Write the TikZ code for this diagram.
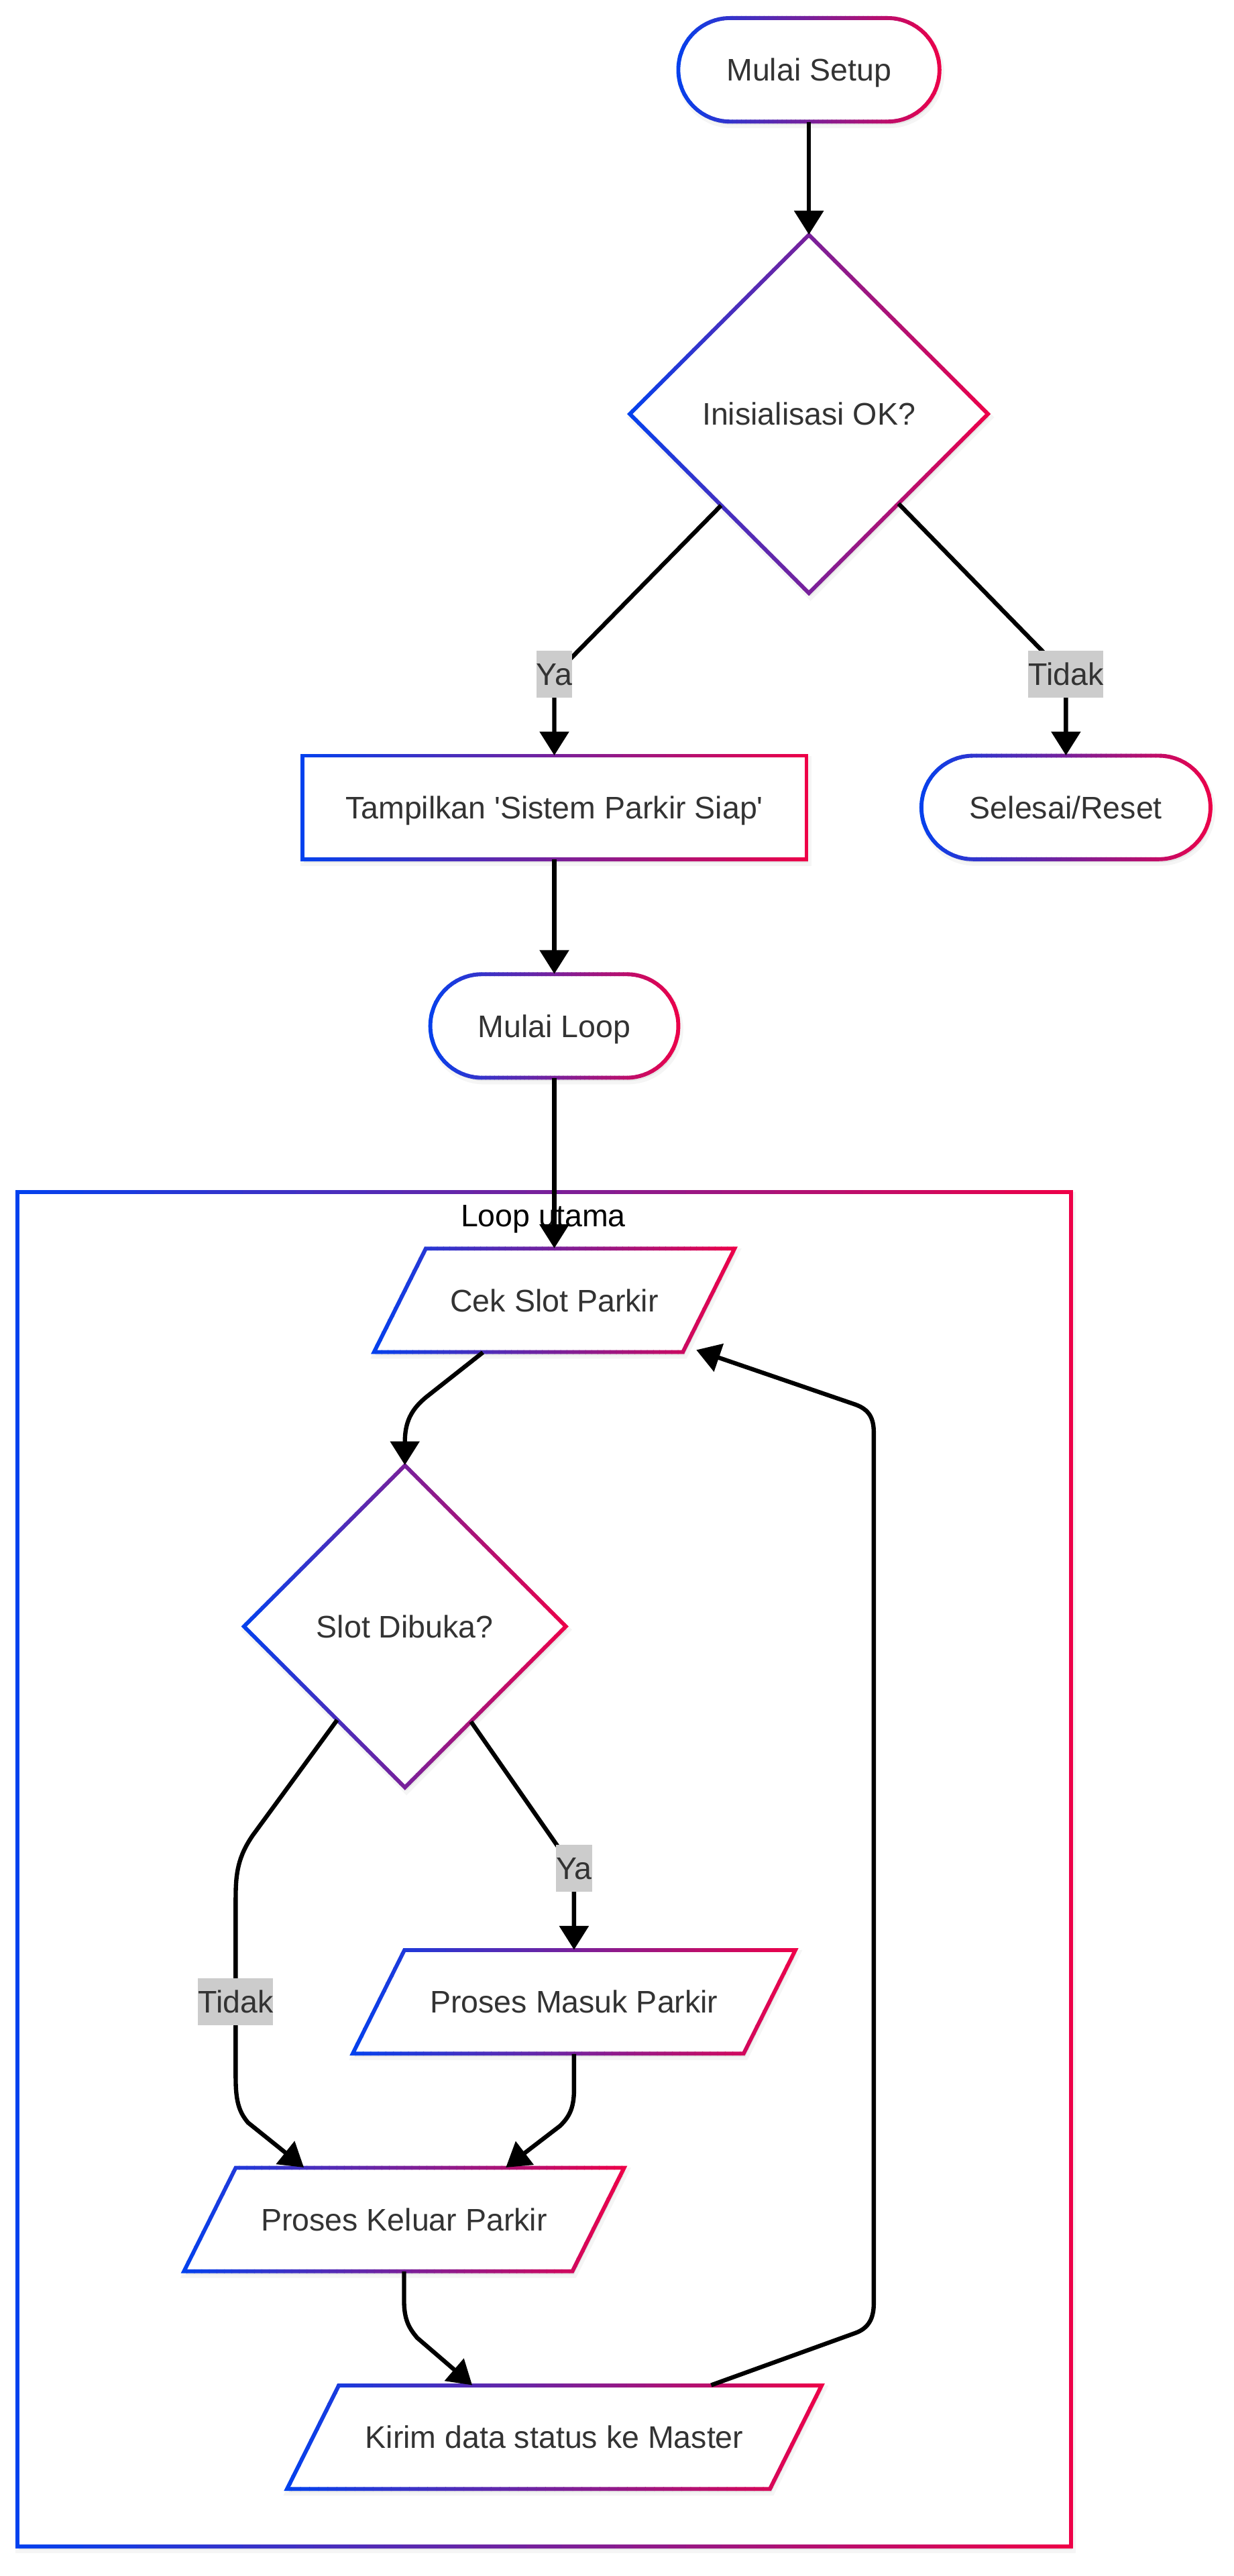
\documentclass[tikz,border=0pt]{standalone}
\usepackage{fontspec}
\setmainfont{Liberation Sans}
\usetikzlibrary{arrows.meta,calc,shapes.geometric}
\definecolor{gblue}{RGB}{0,66,240}
\definecolor{gred}{RGB}{238,0,72}
\definecolor{txtc}{HTML}{333333}
\definecolor{lblbg}{HTML}{CCCCCC}
\tikzset{
  gline/.style={line width=2.4pt, line join=miter},
  shadowst/.style={fill=black, fill opacity=0.06, draw=black, draw opacity=0.04, line width=4pt},
  ntext/.style={text=txtc, inner sep=0pt, text height=13.6pt, text depth=0pt, align=center},
  conn/.style={line width=2.6pt, draw=black, -{Triangle[length=14.5pt,width=17.5pt]}},
  elabel/.style={fill=lblbg, text=txtc, inner xsep=0pt, inner ysep=7.5pt, text height=13.6pt, text depth=0pt},
}
% gradient stroke: [opts]{xmin}{xmax}{path}
\newcommand\gstroke[4][]{%
  \pgfmathsetmacro\gstep{(#3-#2+6)/60}%
  \foreach \k in {0,...,59}{%
    \pgfmathsetmacro\xa{#2-3+\gstep*\k}%
    \pgfmathsetmacro\xb{#2-3+\gstep*(\k+1)+0.4}%
    \pgfmathtruncatemacro\pc{100-100*(\k+0.5)/60}%
    \begin{scope}
      \clip (\xa,-20) rectangle (\xb,1600);
      \draw[gline, draw=gblue!\pc!gred, #1] #4;
    \end{scope}
  }%
}
\newcommand\shapeall[4][]{%
  \path[shadowst, #1, shift={(1,2)}] #4;
  \fill[white, #1] #4;
  \gstroke[#1]{#2}{#3}{#4}%
}
\begin{document}
\begin{tikzpicture}[x=1pt, y=-1pt, font=\fontsize{19}{23}\selectfont]
\useasboundingbox (0,0) rectangle (751.3,1568);
\fill[white] (0,0) rectangle (751.3,1568);

% subgraph
\shapeall{10.5}{652}{(10.5,725.5) rectangle (652,1550)}
\node[text=black, inner sep=0pt, text height=13.6pt, text depth=0pt] (ttl) at (330.7,740) {Loop utama};

% shapes
\shapeall[rounded corners=31.5pt]{413}{572}{(413,11) rectangle (572,74)}
\shapeall{383.5}{601.5}{(492.5,143) -- (601.5,252) -- (492.5,361) -- (383.5,252) -- cycle}
\shapeall{184}{491}{(184,460) rectangle (491,523)}
\shapeall[rounded corners=31.5pt]{561}{737}{(561,460) rectangle (737,523)}
\shapeall[rounded corners=31.5pt]{262}{413}{(262,593) rectangle (413,656)}
\shapeall{227.75}{447.25}{(259.25,760) -- (447.25,760) -- (415.75,823) -- (227.75,823) -- cycle}
\shapeall{148.5}{344.5}{(246.5,892) -- (344.5,990) -- (246.5,1088) -- (148.5,990) -- cycle}
\shapeall{214.75}{484.25}{(246.25,1187) -- (484.25,1187) -- (452.75,1250) -- (214.75,1250) -- cycle}
\shapeall{112}{380}{(143.5,1319.5) -- (380,1319.5) -- (348.5,1382.5) -- (112,1382.5) -- cycle}
\shapeall{174.75}{500.25}{(206.25,1452) -- (500.25,1452) -- (468.75,1515) -- (174.75,1515) -- cycle}

% node texts
\node[ntext, minimum width=159pt, minimum height=63pt] (ms) at (492.5,42.5) {Mulai Setup};
\node[ntext, diamond, aspect=1, minimum width=218pt, minimum height=218pt] (init) at (492.5,252) {Inisialisasi OK?};
\node[ntext, minimum width=307pt, minimum height=63pt] (tamp) at (337.5,491.5) {Tampilkan \textquotesingle Sistem Parkir Siap\textquotesingle};
\node[ntext, minimum width=176pt, minimum height=63pt] (sel) at (649,491.5) {Selesai/Reset};
\node[ntext, minimum width=151pt, minimum height=63pt] (ml) at (337.5,624.5) {Mulai Loop};
\node[ntext, minimum width=219.5pt, minimum height=63pt] (cek) at (337.5,791.5) {Cek Slot Parkir};
\node[ntext, diamond, aspect=1, minimum width=196pt, minimum height=196pt] (slot) at (246.5,990) {Slot Dibuka?};
\node[ntext, minimum width=269.5pt, minimum height=63pt] (masuk) at (349.5,1218.5) {Proses Masuk Parkir};
\node[ntext, minimum width=268pt, minimum height=63pt] (keluar) at (246,1351) {Proses Keluar Parkir};
\node[ntext, minimum width=325.5pt, minimum height=63pt] (kirim) at (337.5,1483.5) {Kirim data status ke Master};

% connectors
\draw[conn] (ms.south) -- (init.north);
\draw[conn, rounded corners=6pt] ($(init.west)!0.51!(init.south)$) -- (337.5,411) -- (tamp.north);
\draw[conn, rounded corners=6pt] ($(init.south)!0.5!(init.east)$) -- (649,411) -- (sel.north);
\draw[conn] (tamp.south) -- (ml.north);
\draw[conn] (ml.south) -- (cek.north);
\draw[conn] ($(cek.south)+(-43.5,0)$) -- (260,850) .. controls (250,858) and (246.5,866) .. (246.5,878) -- (slot.north);
\draw[conn] ($(slot.west)!0.58!(slot.south)$) -- (154,1117) .. controls (145,1130) and (143.5,1140) .. (143.5,1155) -- (143.5,1265) .. controls (143.5,1280) and (146,1286) .. (151,1292) -- ($(keluar.north)+(-61,0)$);
\draw[conn] ($(slot.south)!0.41!(slot.east)$) -- (339,1123) .. controls (348,1136) .. (349.5,1152) -- (masuk.north);
\draw[conn] (masuk.south) -- (349.5,1272) .. controls (349.5,1284) and (346,1289) .. (341,1294) -- ($(keluar.north)+(62,0)$);
\draw[conn] (keluar.south) -- (246,1400) .. controls (246,1412) and (249,1417) .. (254,1423) -- ($(kirim.north)+(-50,0)$);
\draw[conn] ($(kirim.north)+(95.5,0)$) -- (521,1420) .. controls (529,1417) and (532,1411) .. (532,1402) -- (532,872) .. controls (532,863) and (529,858) .. (521,855) -- ($(cek.south east)+(-23.5,-1.5)$);

% edge labels
\node[elabel] (lya1) at (337.5,410.5) {Ya};
\node[elabel] (ltd1) at (649,410.5) {Tidak};
\node[elabel] (ltd2) at (143.5,1218.5) {Tidak};
\node[elabel] (lya2) at (349.5,1137) {Ya};
\end{tikzpicture}
\end{document}
